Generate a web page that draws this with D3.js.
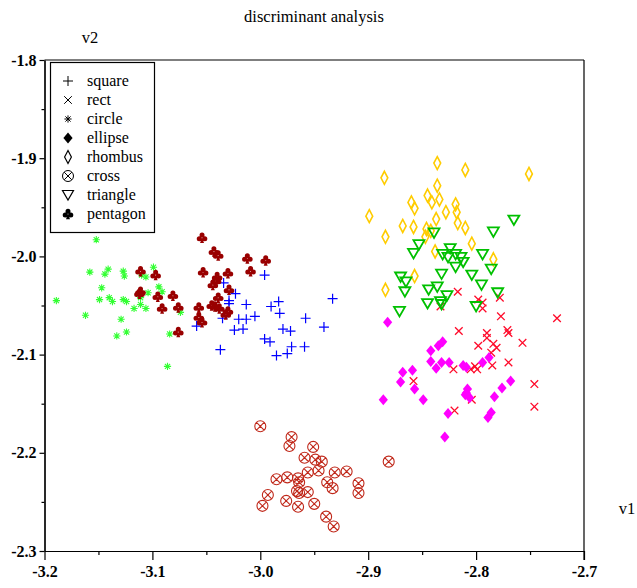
<!DOCTYPE html>
<html lang="en">
<head>
<meta charset="utf-8">
<title>discriminant analysis</title>
<script src="https://cdn.jsdelivr.net/npm/d3@7"></script>
<style>
  body { margin: 0; background: #fff; }
  svg text { font-family: "Liberation Serif", Tinos, Times, "Nimbus Roman", "DejaVu Serif", serif; }
</style>
</head>
<body>
<script>
// tick values and legend entries
var xTicks = [-3.2, -3.1, -3.0, -2.9, -2.8, -2.7];
var xMinor = [-3.15, -3.05, -2.95, -2.85, -2.75];
var yTicks = [-1.8, -1.9, -2.0, -2.1, -2.2, -2.3];
var yMinor = [-1.85, -1.95, -2.05, -2.15, -2.25];
var categories = ["square", "rect", "circle", "ellipse", "rhombus", "cross", "triangle", "pentagon"];

// series values (v1, v2)
var squareV1 = [-3.034,-2.996,-3.023,-3.029,-3.029,-3.013,-2.983,-2.990,-2.982,-2.933,-3.005,-3.020,-3.013,-3.035,-2.958,-3.059,-3.024,-3.016,-2.979,-2.972,-2.941,-2.996,-2.991,-2.971,-2.959,-3.037,-2.985,-2.975];
var squareV2 = [-2.027,-2.019,-2.038,-2.045,-2.048,-2.049,-2.046,-2.051,-2.058,-2.043,-2.061,-2.064,-2.064,-2.063,-2.063,-2.071,-2.075,-2.074,-2.074,-2.076,-2.072,-2.084,-2.087,-2.092,-2.092,-2.095,-2.101,-2.099];

var rectV1 = [-2.817,-2.798,-2.794,-2.794,-2.778,-2.833,-2.777,-2.725,-2.816,-2.790,-2.790,-2.771,-2.770,-2.757,-2.784,-2.781,-2.798,-2.786,-2.770,-2.785,-2.801,-2.805,-2.799,-2.821,-2.858,-2.746,-2.804,-2.746,-2.820];
var rectV2 = [-2.036,-2.044,-2.047,-2.053,-2.042,-2.051,-2.061,-2.063,-2.076,-2.078,-2.083,-2.075,-2.078,-2.088,-2.089,-2.093,-2.091,-2.098,-2.108,-2.111,-2.112,-2.115,-2.115,-2.115,-2.127,-2.130,-2.146,-2.153,-2.157];

var circleV1 = [-3.152,-3.158,-3.141,-3.144,-3.127,-3.126,-3.099,-3.110,-3.106,-3.147,-3.094,-3.091,-3.104,-3.140,-3.149,-3.137,-3.127,-3.124,-3.189,-3.111,-3.111,-3.117,-3.106,-3.074,-3.162,-3.129,-3.124,-3.133,-3.084,-3.086];
var circleV2 = [-1.983,-2.016,-2.013,-2.018,-2.015,-2.020,-2.011,-2.019,-2.021,-2.032,-2.031,-2.036,-2.037,-2.042,-2.044,-2.046,-2.044,-2.046,-2.045,-2.042,-2.049,-2.053,-2.053,-2.057,-2.060,-2.064,-2.077,-2.081,-2.079,-2.112];

var ellipseV1 = [-2.882,-2.831,-2.835,-2.842,-2.842,-2.832,-2.825,-2.837,-2.812,-2.809,-2.794,-2.788,-2.868,-2.859,-2.870,-2.857,-2.768,-2.776,-2.808,-2.809,-2.810,-2.806,-2.783,-2.849,-2.886,-2.826,-2.786,-2.789,-2.829];
var ellipseV2 = [-2.067,-2.087,-2.091,-2.096,-2.107,-2.108,-2.108,-2.114,-2.111,-2.113,-2.108,-2.103,-2.118,-2.116,-2.128,-2.135,-2.127,-2.134,-2.135,-2.139,-2.141,-2.144,-2.143,-2.146,-2.146,-2.160,-2.159,-2.164,-2.184];

var rhombusV1 = [-2.836,-2.810,-2.885,-2.751,-2.836,-2.845,-2.834,-2.860,-2.857,-2.841,-2.819,-2.818,-2.828,-2.899,-2.837,-2.817,-2.868,-2.858,-2.810,-2.846,-2.842,-2.884,-2.847,-2.804,-2.838,-2.784,-2.857,-2.884];
var rhombusV2 = [-1.905,-1.912,-1.920,-1.916,-1.928,-1.938,-1.942,-1.945,-1.951,-1.945,-1.947,-1.955,-1.955,-1.959,-1.962,-1.966,-1.969,-1.970,-1.971,-1.972,-1.974,-1.980,-1.980,-1.987,-1.995,-2.003,-2.020,-2.034];

var crossV1 = [-3.000,-2.971,-2.973,-2.951,-2.959,-2.949,-2.943,-2.946,-2.881,-2.931,-2.920,-2.985,-2.975,-2.965,-2.956,-2.964,-2.938,-2.933,-2.909,-2.909,-2.993,-2.966,-2.964,-2.956,-2.998,-2.976,-2.965,-2.950,-2.939,-2.932];
var crossV2 = [-2.173,-2.184,-2.193,-2.194,-2.205,-2.207,-2.209,-2.218,-2.209,-2.220,-2.219,-2.227,-2.225,-2.226,-2.220,-2.230,-2.230,-2.236,-2.231,-2.241,-2.243,-2.239,-2.241,-2.240,-2.254,-2.249,-2.255,-2.252,-2.265,-2.275];

var triangleV1 = [-2.765,-2.784,-2.839,-2.853,-2.858,-2.824,-2.831,-2.826,-2.819,-2.814,-2.812,-2.794,-2.819,-2.804,-2.786,-2.832,-2.870,-2.865,-2.836,-2.844,-2.795,-2.866,-2.780,-2.827,-2.833,-2.832,-2.845,-2.800,-2.871];
var triangleV2 = [-1.963,-1.975,-1.976,-1.988,-1.997,-1.992,-1.998,-2.001,-1.998,-2.001,-2.006,-1.998,-2.011,-2.019,-2.013,-2.018,-2.021,-2.026,-2.031,-2.034,-2.029,-2.036,-2.037,-2.040,-2.046,-2.049,-2.048,-2.051,-2.056];

var pentagonV1 = [-3.054,-3.043,-3.039,-3.012,-2.995,-3.111,-3.097,-3.053,-3.030,-3.009,-3.040,-3.041,-3.044,-3.111,-3.112,-3.095,-3.081,-3.029,-3.039,-3.045,-3.042,-3.038,-3.091,-3.076,-3.057,-3.030,-3.032,-3.057,-3.054,-3.076];
var pentagonV2 = [-1.981,-1.995,-1.999,-2.002,-2.004,-2.015,-2.019,-2.016,-2.017,-2.015,-2.021,-2.025,-2.029,-2.036,-2.038,-2.041,-2.040,-2.034,-2.042,-2.050,-2.051,-2.053,-2.053,-2.052,-2.052,-2.056,-2.059,-2.062,-2.067,-2.077];

var w = 637, h = 588;

var svg = d3.select("body").append("svg")
    .attr("width", w)
    .attr("height", h);

var x = d3.scaleLinear().domain([-3.2, -2.7]).range([44.5, 584]);
var y = d3.scaleLinear().domain([-1.8, -2.3]).range([60, 551]);

// marker shapes as path strings
function circ(cx, cy, r) {
    return "M" + (cx - r) + "," + cy + "a" + r + "," + r + " 0 1,0 " + 2 * r + ",0a" + r + "," + r + " 0 1,0 " + (-2 * r) + ",0";
}
var shapes = {
    square:   "M-5,0H5M0,-5V5",
    rect:     "M-3.8,-3.8L3.8,3.8M-3.8,3.8L3.8,-3.8",
    circle:   "M0,-3.6V3.6M-3.6,0H3.6M-2.6,-2.6L2.6,2.6M-2.6,2.6L2.6,-2.6",
    ellipse:  "M0,-5.5L4.6,0L0,5.5L-4.6,0Z",
    rhombus:  "M0,-6.5L3.4,0L0,6.5L-3.4,0Z",
    cross:    circ(0, 0, 5.5) + "M-3.8,-3.8L3.8,3.8M-3.8,3.8L3.8,-3.8",
    triangle: "M-5.5,-4.5H5.5L0,5Z",
    pentagon: circ(0, -2.7, 2.5) + circ(-2.8, 0.9, 2.5) + circ(2.8, 0.9, 2.5) + "M0,0L-2,5.3H2Z"
};
var colors = {
    square: "#0000ff", rect: "#ff0a2a", circle: "#33ff33", ellipse: "#ff00ff",
    rhombus: "#ffcc00", cross: "#c0281a", triangle: "#00c000", pentagon: "#990000"
};
var filled = { ellipse: true, pentagon: true };
var widths = { square: 1.2, rect: 1.3, circle: 1.1, rhombus: 1.6, cross: 1.1, triangle: 1.8 };

var series = [
    { name: "square", v1: squareV1, v2: squareV2 },
    { name: "rect", v1: rectV1, v2: rectV2 },
    { name: "circle", v1: circleV1, v2: circleV2 },
    { name: "ellipse", v1: ellipseV1, v2: ellipseV2 },
    { name: "rhombus", v1: rhombusV1, v2: rhombusV2 },
    { name: "cross", v1: crossV1, v2: crossV2 },
    { name: "triangle", v1: triangleV1, v2: triangleV2 },
    { name: "pentagon", v1: pentagonV1, v2: pentagonV2 }
];

// frame: top and right borders
svg.append("line").attr("x1", 44.5).attr("x2", 584).attr("y1", 60).attr("y2", 60)
    .attr("stroke", "#000").attr("stroke-width", 1.2);
svg.append("line").attr("x1", 584).attr("x2", 584).attr("y1", 60).attr("y2", 560)
    .attr("stroke", "#000").attr("stroke-width", 1.2);

// axes
var fmt = function(d) { return d.toFixed(1); };
svg.append("g").attr("transform", "translate(0,551)")
    .call(d3.axisBottom(x).tickValues(xTicks).tickFormat(fmt).tickSize(9).tickSizeOuter(0).tickPadding(6));
svg.append("g").attr("transform", "translate(0,551)")
    .call(d3.axisBottom(x).tickValues(xMinor).tickFormat("").tickSize(4).tickSizeOuter(0));
svg.append("g").attr("transform", "translate(44.5,0)")
    .call(d3.axisLeft(y).tickValues(yTicks).tickFormat(fmt).tickSize(5).tickSizeOuter(0).tickPadding(3));
svg.append("g").attr("transform", "translate(44.5,0)")
    .call(d3.axisLeft(y).tickValues(yMinor).tickFormat("").tickSize(3).tickSizeOuter(0));

svg.selectAll(".domain").attr("stroke", "#000").attr("stroke-width", 1.2);
svg.selectAll(".tick line").attr("stroke", "#000").attr("stroke-width", 1.2);
svg.selectAll(".tick text")
    .attr("fill", "#000")
    .attr("font-weight", "bold")
    .attr("font-size", "16px");

// points
series.forEach(function(s) {
    var pts = s.v1.map(function(v, i) { return [v, s.v2[i]]; });
    svg.append("g").selectAll("path")
        .data(pts)
        .enter()
        .append("path")
        .attr("transform", function(d) { return "translate(" + x(d[0]) + "," + y(d[1]) + ")"; })
        .attr("d", shapes[s.name])
        .attr("fill", filled[s.name] ? colors[s.name] : "none")
        .attr("stroke", filled[s.name] ? "none" : colors[s.name])
        .attr("stroke-width", widths[s.name] || 1);
});

// titles
svg.append("text").attr("x", 314).attr("y", 22).attr("text-anchor", "middle")
    .attr("font-size", "16.5px").text("discriminant analysis");
svg.append("text").attr("x", 90).attr("y", 43).attr("text-anchor", "middle")
    .attr("font-size", "16.5px").text("v2");
svg.append("text").attr("x", 627).attr("y", 514).attr("text-anchor", "middle")
    .attr("font-size", "16.5px").text("v1");

// legend
var legend = svg.append("g");
legend.append("rect").attr("x", 50.5).attr("y", 62.5).attr("width", 104).attr("height", 170)
    .attr("fill", "#fff").attr("stroke", "#000").attr("stroke-width", 1.2);
var rows = legend.selectAll("g.row")
    .data(categories)
    .enter()
    .append("g")
    .attr("class", "row")
    .attr("transform", function(d, i) { return "translate(0," + (81 + i * 19) + ")"; });
rows.append("path")
    .attr("transform", "translate(68,0)")
    .attr("d", function(d) { return shapes[d]; })
    .attr("fill", function(d) { return filled[d] ? "#000" : "none"; })
    .attr("stroke", function(d) { return filled[d] ? "none" : "#000"; })
    .attr("stroke-width", function(d) { return d === "triangle" || d === "rhombus" ? 1.2 : 1; });
rows.append("text")
    .attr("x", 87)
    .attr("y", 5)
    .attr("font-size", "16px")
    .text(function(d) { return d; });
</script>
</body>
</html>
